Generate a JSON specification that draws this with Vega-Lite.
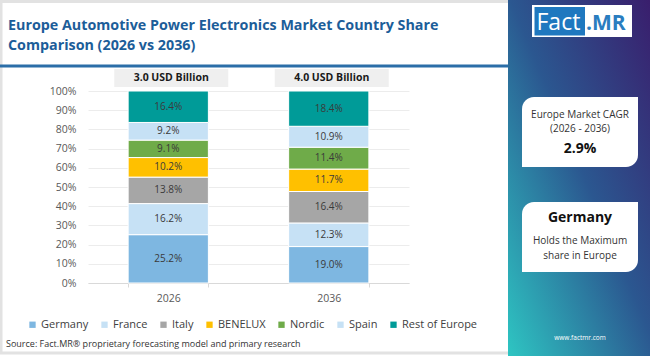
{
  "$schema": "https://vega.github.io/schema/vega-lite/v6.json",
  "width": 321,
  "height": 192,
  "autosize": {"type": "none"},
  "padding": {"left": 88, "top": 91, "right": 241, "bottom": 73},
  "background": "#ffffff",
  "config": {
    "font": "Open Sans",
    "view": {"stroke": null},
    "axisY": {"values": [0, 0.1, 0.2, 0.3, 0.4, 0.5, 0.6, 0.7, 0.8, 0.9, 1], "format": ".0%", "labelOverlap": false, "domain": false, "ticks": false, "labelPadding": 12, "labelColor": "#595959", "labelFontSize": 10.5, "gridColor": "#ececec", "title": null}
  },
  "resolve": {"scale": {"x": "independent", "y": "independent"}},
  "layer": [
    {
      "data": {
        "values": [
          {"year": "2026", "region": "Germany", "k": 1, "share": 0.252},
          {"year": "2026", "region": "France", "k": 2, "share": 0.162},
          {"year": "2026", "region": "Italy", "k": 3, "share": 0.138},
          {"year": "2026", "region": "BENELUX", "k": 4, "share": 0.102},
          {"year": "2026", "region": "Nordic", "k": 5, "share": 0.091},
          {"year": "2026", "region": "Spain", "k": 6, "share": 0.092},
          {"year": "2026", "region": "Rest of Europe", "k": 7, "share": 0.164},
          {"year": "2036", "region": "Germany", "k": 1, "share": 0.190},
          {"year": "2036", "region": "France", "k": 2, "share": 0.123},
          {"year": "2036", "region": "Italy", "k": 3, "share": 0.164},
          {"year": "2036", "region": "BENELUX", "k": 4, "share": 0.117},
          {"year": "2036", "region": "Nordic", "k": 5, "share": 0.114},
          {"year": "2036", "region": "Spain", "k": 6, "share": 0.109},
          {"year": "2036", "region": "Rest of Europe", "k": 7, "share": 0.184}
        ]
      },
      "layer": [
        {
          "mark": {"type": "bar", "stroke": "#ffffff", "strokeWidth": 1},
          "encoding": {
            "x": {
              "field": "year", "type": "nominal",
              "scale": {"paddingInner": 0.5, "paddingOuter": 0.25},
              "axis": {"title": null, "labelAngle": 0, "labelColor": "#595959", "labelFontSize": 10.5, "labelPadding": 6, "domainColor": "#d9d9d9", "tickColor": "#d9d9d9", "tickSize": 4, "tickBand": "extent", "grid": false}
            },
            "y": {
              "field": "share", "type": "quantitative", "stack": "normalize",
              "scale": {"domain": [0, 1], "nice": false},
              "axis": {"values": [0, 0.1, 0.2, 0.3, 0.4, 0.5, 0.6, 0.7, 0.8, 0.9, 1], "format": ".0%", "labelOverlap": false, "title": null}
            },
            "color": {
              "field": "region", "type": "nominal",
              "sort": ["Germany", "France", "Italy", "BENELUX", "Nordic", "Spain", "Rest of Europe"],
              "scale": {
                "domain": ["Germany", "France", "Italy", "BENELUX", "Nordic", "Spain", "Rest of Europe"],
                "range": ["#7eb7e1", "#c6e1f5", "#a6a6a6", "#ffc000", "#6fab49", "#c6e1f5", "#009b98"]
              },
              "legend": {"title": null, "orient": "none", "legendX": -61, "legendY": 228, "direction": "horizontal", "symbolType": "square", "symbolSize": 40, "symbolStrokeWidth": 0, "labelFontSize": 11, "labelColor": "#404040", "labelOffset": 3, "columnPadding": 10, "padding": 0}
            },
            "order": {"field": "k", "type": "quantitative"}
          }
        },
        {
          "mark": {"type": "text", "fontSize": 10, "color": "#3a3a3a"},
          "encoding": {
            "x": {"field": "year", "type": "nominal"},
            "y": {"field": "share", "type": "quantitative", "stack": "normalize", "bandPosition": 0.5, "axis": {"values": [0, 0.1, 0.2, 0.3, 0.4, 0.5, 0.6, 0.7, 0.8, 0.9, 1], "format": ".0%", "labelOverlap": false, "title": null}},
            "detail": {"field": "region"},
            "order": {"field": "k", "type": "quantitative"},
            "text": {"field": "share", "type": "quantitative", "format": ".1%"}
          }
        },
        {
          "data": {"values": [{"year": "2026", "total": "3.0 USD Billion"}, {"year": "2036", "total": "4.0 USD Billion"}]},
          "mark": {"type": "bar", "color": "#efefef", "width": 114, "xOffset": 3, "yOffset": -4, "y2Offset": -22},
          "encoding": {
            "x": {"field": "year", "type": "nominal"},
            "y": {"datum": 1, "type": "quantitative", "axis": {"values": [0, 0.1, 0.2, 0.3, 0.4, 0.5, 0.6, 0.7, 0.8, 0.9, 1], "format": ".0%", "labelOverlap": false, "title": null}},
            "y2": {"datum": 1}
          }
        },
        {
          "data": {"values": [{"year": "2026", "total": "3.0 USD Billion"}, {"year": "2036", "total": "4.0 USD Billion"}]},
          "mark": {"type": "text", "fontSize": 10.5, "fontWeight": "bold", "color": "#1a1a1a", "xOffset": 3, "yOffset": -13, "baseline": "middle"},
          "encoding": {
            "x": {"field": "year", "type": "nominal"},
            "y": {"datum": 1, "type": "quantitative", "axis": {"values": [0, 0.1, 0.2, 0.3, 0.4, 0.5, 0.6, 0.7, 0.8, 0.9, 1], "format": ".0%", "labelOverlap": false, "title": null}},
            "text": {"field": "total"}
          }
        }
      ]
    },
    {
      "data": {"values": [{}]},
      "layer": [
        {
          "mark": {"type": "rect", "filled": false, "stroke": "#e2e2e2", "strokeWidth": 3},
          "encoding": {
            "x": {"datum": 1, "type": "quantitative", "scale": {"domain": [88, 409], "nice": false, "zero": false}, "axis": null},
            "x2": {"datum": 510},
            "y": {"datum": 1.5, "type": "quantitative", "scale": {"domain": [91, 283], "nice": false, "zero": false, "reverse": true}, "axis": null},
            "y2": {"datum": 353}
          }
        },
        {
          "mark": {"type": "rect", "color": {"gradient": "linear", "x1": 1, "y1": 0, "x2": 0, "y2": 1, "stops": [{"offset": 0, "color": "#3b1869"}, {"offset": 0.5, "color": "#2b5790"}, {"offset": 1, "color": "#2ec7c3"}]}},
          "encoding": {
            "x": {"datum": 508, "type": "quantitative"},
            "x2": {"datum": 662},
            "y": {"datum": -6, "type": "quantitative"},
            "y2": {"datum": 362}
          }
        },
        {
          "mark": {"type": "rect", "color": "#ffffff"},
          "encoding": {
            "x": {"datum": 532, "type": "quantitative"}, "x2": {"datum": 632},
            "y": {"datum": 5, "type": "quantitative"}, "y2": {"datum": 37}
          }
        },
        {
          "mark": {"type": "rect", "color": "#1f78bf"},
          "encoding": {
            "x": {"datum": 534.5, "type": "quantitative"}, "x2": {"datum": 585},
            "y": {"datum": 7, "type": "quantitative"}, "y2": {"datum": 35.5}
          }
        },
        {
          "mark": {"type": "text", "text": "Fact", "fontSize": 23, "color": "#ffffff", "align": "left", "baseline": "alphabetic"},
          "encoding": {"x": {"datum": 536.5, "type": "quantitative"}, "y": {"datum": 30, "type": "quantitative"}}
        },
        {
          "mark": {"type": "text", "text": ".MR", "fontSize": 21, "fontWeight": "bold", "color": "#2a7dc0", "align": "left", "baseline": "alphabetic"},
          "encoding": {"x": {"datum": 586, "type": "quantitative"}, "y": {"datum": 30, "type": "quantitative"}}
        },
        {
          "mark": {"type": "rect", "color": "#ffffff", "cornerRadiusTopLeft": 12, "cornerRadiusBottomRight": 12},
          "encoding": {
            "x": {"datum": 522, "type": "quantitative"}, "x2": {"datum": 638},
            "y": {"datum": 97, "type": "quantitative"}, "y2": {"datum": 167}
          }
        },
        {
          "mark": {"type": "rect", "color": "#ffffff", "cornerRadiusTopLeft": 12, "cornerRadiusBottomRight": 12},
          "encoding": {
            "x": {"datum": 522, "type": "quantitative"}, "x2": {"datum": 638},
            "y": {"datum": 202, "type": "quantitative"}, "y2": {"datum": 272}
          }
        },
        {
          "mark": {"type": "text", "text": "Europe Market CAGR", "fontSize": 10, "color": "#333333", "align": "center", "baseline": "middle"},
          "encoding": {"x": {"datum": 580, "type": "quantitative"}, "y": {"datum": 115, "type": "quantitative"}}
        },
        {
          "mark": {"type": "text", "text": "(2026 - 2036)", "fontSize": 10, "color": "#333333", "align": "center", "baseline": "middle"},
          "encoding": {"x": {"datum": 580, "type": "quantitative"}, "y": {"datum": 129, "type": "quantitative"}}
        },
        {
          "mark": {"type": "text", "text": "2.9%", "fontSize": 14, "fontWeight": "bold", "color": "#111111", "align": "center", "baseline": "middle"},
          "encoding": {"x": {"datum": 580, "type": "quantitative"}, "y": {"datum": 149, "type": "quantitative"}}
        },
        {
          "mark": {"type": "text", "text": "Germany", "fontSize": 14, "fontWeight": "bold", "color": "#111111", "align": "center", "baseline": "middle"},
          "encoding": {"x": {"datum": 580, "type": "quantitative"}, "y": {"datum": 218, "type": "quantitative"}}
        },
        {
          "mark": {"type": "text", "text": "Holds the Maximum", "fontSize": 10, "color": "#333333", "align": "center", "baseline": "middle"},
          "encoding": {"x": {"datum": 580, "type": "quantitative"}, "y": {"datum": 241, "type": "quantitative"}}
        },
        {
          "mark": {"type": "text", "text": "share in Europe", "fontSize": 10, "color": "#333333", "align": "center", "baseline": "middle"},
          "encoding": {"x": {"datum": 580, "type": "quantitative"}, "y": {"datum": 256, "type": "quantitative"}}
        },
        {
          "mark": {"type": "text", "text": "www.factmr.com", "fontSize": 6.5, "color": "#ffffff", "align": "center", "baseline": "middle"},
          "encoding": {"x": {"datum": 580, "type": "quantitative"}, "y": {"datum": 338, "type": "quantitative"}}
        },
        {
          "mark": {"type": "text", "text": "Europe Automotive Power Electronics Market Country Share", "fontSize": 14.3, "fontWeight": "bold", "color": "#1c5d99", "align": "left", "baseline": "alphabetic"},
          "encoding": {"x": {"datum": 8, "type": "quantitative"}, "y": {"datum": 29.5, "type": "quantitative"}}
        },
        {
          "mark": {"type": "text", "text": "Comparison (2026 vs 2036)", "fontSize": 14.3, "fontWeight": "bold", "color": "#1c5d99", "align": "left", "baseline": "alphabetic"},
          "encoding": {"x": {"datum": 8, "type": "quantitative"}, "y": {"datum": 50, "type": "quantitative"}}
        },
        {
          "mark": {"type": "rule", "color": "#2b6ea8", "strokeWidth": 3},
          "encoding": {"x": {"datum": 0, "type": "quantitative"}, "x2": {"datum": 508}, "y": {"datum": 66, "type": "quantitative"}}
        },
        {
          "mark": {"type": "text", "text": "Source: Fact.MR® proprietary forecasting model and primary research", "fontSize": 9, "color": "#333333", "align": "left", "baseline": "middle"},
          "encoding": {"x": {"datum": 6, "type": "quantitative"}, "y": {"datum": 344, "type": "quantitative"}}
        }
      ]
    }
  ]
}
